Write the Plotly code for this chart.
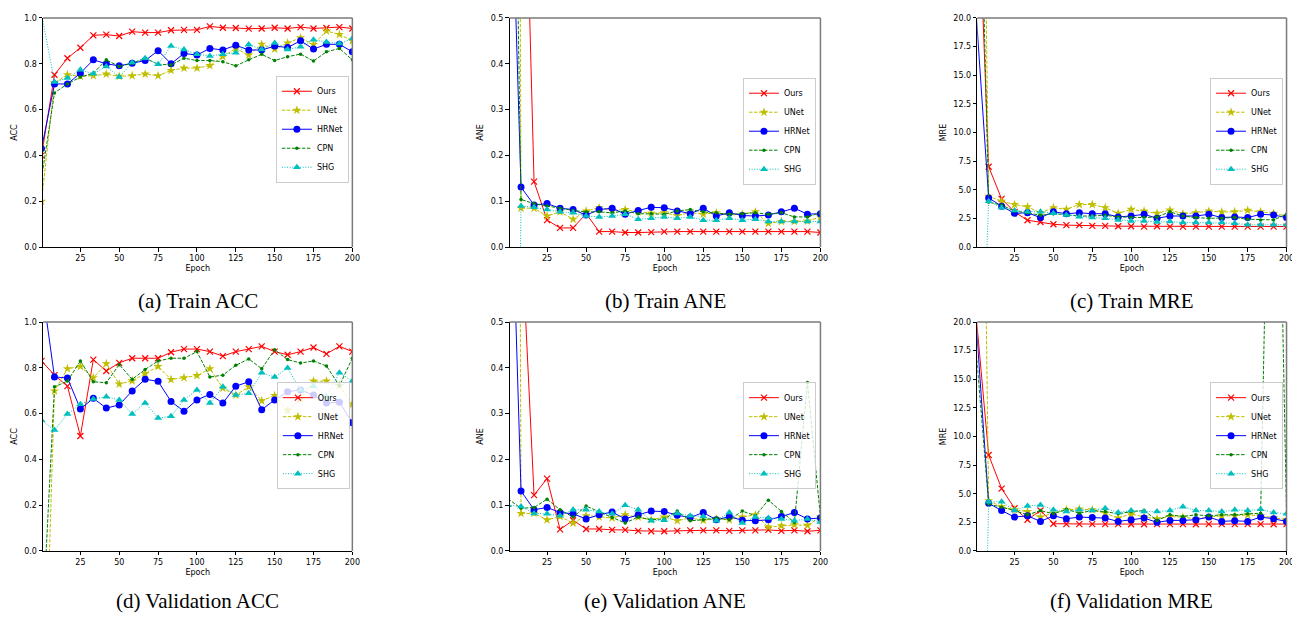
import plotly.graph_objects as go

# ---------------- data ----------------
epochs = [0, 8.33, 16.67, 25, 33.33, 41.67, 50, 58.33, 66.67, 75, 83.33, 91.67, 100,
          108.33, 116.67, 125, 133.33, 141.67, 150, 158.33, 166.67, 175, 183.33, 191.67, 200]
series_names = ["Ours", "UNet", "HRNet", "CPN", "SHG"]
captions = ["(a) Train ACC", "(b) Train ANE", "(c) Train MRE",
            "(d) Validation ACC", "(e) Validation ANE", "(f) Validation MRE"]
y_labels = ["ACC", "ANE", "MRE", "ACC", "ANE", "MRE"]

# (a) Train ACC
train_acc_ours = [0.40, 0.752, 0.824, 0.870, 0.924, 0.927, 0.921, 0.940, 0.936, 0.936, 0.946, 0.948, 0.948,
                  0.963, 0.957, 0.956, 0.953, 0.954, 0.957, 0.954, 0.960, 0.954, 0.956, 0.960, 0.954]
train_acc_unet = [0.20, 0.716, 0.752, 0.745, 0.748, 0.755, 0.745, 0.748, 0.755, 0.748, 0.771, 0.781, 0.781,
                  0.792, 0.831, 0.867, 0.838, 0.885, 0.864, 0.891, 0.913, 0.884, 0.943, 0.928, 0.900]
train_acc_hrnet = [0.43, 0.712, 0.712, 0.759, 0.817, 0.800, 0.791, 0.802, 0.814, 0.857, 0.800, 0.845, 0.838,
                   0.867, 0.860, 0.881, 0.860, 0.860, 0.877, 0.871, 0.900, 0.864, 0.885, 0.885, 0.852]
train_acc_cpn = [0.30, 0.673, 0.712, 0.742, 0.759, 0.817, 0.788, 0.802, 0.824, 0.798, 0.795, 0.824, 0.814,
                 0.814, 0.809, 0.791, 0.817, 0.841, 0.814, 0.831, 0.842, 0.812, 0.852, 0.867, 0.817]
train_acc_shg = [1.02, 0.720, 0.738, 0.774, 0.756, 0.788, 0.742, 0.805, 0.824, 0.798, 0.877, 0.862, 0.842,
                 0.834, 0.842, 0.848, 0.884, 0.862, 0.891, 0.862, 0.874, 0.905, 0.895, 0.888, 0.910]

# (b) Train ANE
train_ane_ours = [3.0, 1.22, 0.143, 0.059, 0.042, 0.042, 0.073, 0.034, 0.034, 0.032, 0.032, 0.033, 0.034,
                  0.034, 0.034, 0.034, 0.034, 0.034, 0.034, 0.034, 0.034, 0.034, 0.034, 0.034, 0.032]
train_ane_unet = [8.0, 0.085, 0.085, 0.068, 0.077, 0.061, 0.079, 0.086, 0.080, 0.082, 0.077, 0.074, 0.075,
                  0.069, 0.075, 0.072, 0.075, 0.070, 0.072, 0.077, 0.052, 0.056, 0.056, 0.057, 0.066]
train_ane_hrnet = [1.07, 0.131, 0.092, 0.095, 0.085, 0.082, 0.070, 0.082, 0.085, 0.072, 0.080, 0.087, 0.086,
                   0.079, 0.073, 0.085, 0.068, 0.075, 0.069, 0.068, 0.070, 0.077, 0.085, 0.072, 0.073]
train_ane_cpn = [1.9, 0.104, 0.095, 0.090, 0.085, 0.080, 0.077, 0.077, 0.075, 0.079, 0.073, 0.073, 0.072,
                 0.079, 0.082, 0.077, 0.075, 0.072, 0.073, 0.075, 0.072, 0.075, 0.066, 0.066, 0.075]
train_ane_shg = [-2.0, 0.090, 0.087, 0.082, 0.077, 0.075, 0.068, 0.066, 0.068, 0.072, 0.061, 0.063, 0.066,
                 0.063, 0.066, 0.059, 0.059, 0.063, 0.059, 0.061, 0.056, 0.056, 0.056, 0.056, 0.056]

# (c) Train MRE
train_mre_ours = [37.0, 7.02, 4.21, 3.07, 2.35, 2.20, 2.00, 1.92, 1.92, 1.86, 1.86, 1.83, 1.83,
                  1.80, 1.83, 1.80, 1.80, 1.80, 1.80, 1.80, 1.80, 1.80, 1.80, 1.80, 1.80]
train_mre_unet = [90.0, 4.44, 4.01, 3.72, 3.52, 3.00, 3.44, 3.30, 3.72, 3.72, 3.44, 2.95, 3.30,
                  3.15, 2.95, 3.24, 2.92, 3.00, 3.15, 3.07, 3.09, 3.21, 3.09, 2.95, 2.72]
train_mre_hrnet = [21.0, 4.30, 3.58, 2.95, 3.00, 2.58, 3.09, 2.92, 3.00, 2.92, 2.92, 2.64, 2.72,
                   2.87, 2.52, 2.72, 2.72, 2.72, 2.87, 2.58, 2.64, 2.58, 2.87, 2.81, 2.58]
train_mre_cpn = [50.0, 3.93, 3.67, 3.15, 3.00, 2.78, 2.92, 2.81, 2.72, 2.72, 2.78, 2.64, 2.58,
                 2.58, 2.64, 3.09, 2.72, 2.58, 2.52, 2.52, 2.58, 2.44, 2.38, 2.38, 2.87]
train_mre_shg = [-27.0, 4.01, 3.44, 3.21, 3.09, 3.09, 2.95, 2.81, 2.66, 2.58, 2.52, 2.38, 2.29,
                 2.29, 2.20, 2.23, 2.15, 2.15, 2.15, 2.15, 2.09, 1.95, 1.95, 1.95, 1.95]

# (d) Validation ACC
val_acc_ours = [0.83, 0.768, 0.720, 0.502, 0.836, 0.786, 0.822, 0.842, 0.842, 0.842, 0.868, 0.882, 0.882,
                0.871, 0.851, 0.871, 0.882, 0.894, 0.871, 0.857, 0.871, 0.889, 0.861, 0.894, 0.871]
val_acc_unet = [-1.12, 0.699, 0.796, 0.806, 0.757, 0.818, 0.729, 0.743, 0.775, 0.806, 0.749, 0.757, 0.766,
                0.796, 0.711, 0.681, 0.717, 0.656, 0.679, 0.613, 0.664, 0.742, 0.742, 0.722, 0.641]
val_acc_hrnet = [1.17, 0.760, 0.756, 0.620, 0.667, 0.624, 0.638, 0.699, 0.750, 0.741, 0.653, 0.610, 0.660,
                 0.684, 0.646, 0.720, 0.739, 0.617, 0.660, 0.696, 0.703, 0.681, 0.646, 0.650, 0.560]
val_acc_cpn = [-0.40, 0.717, 0.742, 0.830, 0.739, 0.735, 0.814, 0.750, 0.793, 0.830, 0.842, 0.842, 0.871,
               0.760, 0.768, 0.811, 0.839, 0.796, 0.879, 0.836, 0.821, 0.830, 0.808, 0.722, 0.842]
val_acc_shg = [0.571, 0.528, 0.598, 0.641, 0.664, 0.674, 0.660, 0.598, 0.646, 0.581, 0.588, 0.660, 0.703,
               0.646, 0.717, 0.681, 0.689, 0.778, 0.760, 0.799, 0.703, 0.720, 0.674, 0.779, 0.742]

# (e) Validation ANE
val_ane_ours = [2.0, 0.717, 0.122, 0.158, 0.047, 0.067, 0.048, 0.048, 0.046, 0.046, 0.044, 0.043, 0.043,
                0.044, 0.045, 0.045, 0.045, 0.044, 0.045, 0.045, 0.046, 0.044, 0.045, 0.043, 0.045]
val_ane_unet = [8.0, 0.082, 0.082, 0.068, 0.075, 0.061, 0.077, 0.074, 0.072, 0.079, 0.074, 0.068, 0.074,
                0.066, 0.072, 0.067, 0.070, 0.068, 0.074, 0.079, 0.052, 0.055, 0.057, 0.056, 0.074]
val_ane_hrnet = [1.07, 0.131, 0.090, 0.095, 0.084, 0.081, 0.070, 0.079, 0.085, 0.070, 0.079, 0.087, 0.086,
                 0.078, 0.073, 0.084, 0.068, 0.075, 0.067, 0.066, 0.068, 0.075, 0.084, 0.070, 0.072]
val_ane_cpn = [0.114, 0.093, 0.095, 0.113, 0.090, 0.074, 0.098, 0.086, 0.073, 0.061, 0.074, 0.068, 0.070,
               0.087, 0.066, 0.068, 0.072, 0.068, 0.087, 0.077, 0.111, 0.086, 0.062, 0.368, 0.074]
val_ane_shg = [0.100, 0.097, 0.082, 0.081, 0.077, 0.090, 0.090, 0.086, 0.081, 0.100, 0.090, 0.066, 0.067,
               0.082, 0.077, 0.075, 0.066, 0.084, 0.061, 0.074, 0.072, 0.070, 0.066, 0.070, 0.063]

# (f) Validation MRE
val_mre_ours = [21.0, 8.38, 5.45, 3.73, 2.73, 3.53, 2.38, 2.35, 2.35, 2.35, 2.35, 2.35, 2.33,
                2.33, 2.35, 2.35, 2.35, 2.33, 2.35, 2.35, 2.35, 2.35, 2.35, 2.33, 2.35]
val_mre_unet = [90.0, 4.39, 3.87, 3.59, 3.44, 2.96, 3.30, 3.59, 3.67, 3.59, 3.30, 2.87, 3.24,
                2.96, 2.81, 3.01, 2.96, 2.78, 2.96, 3.07, 3.07, 3.16, 3.07, 2.87, 2.73]
val_mre_hrnet = [20.5, 4.16, 3.53, 2.96, 3.07, 2.58, 3.07, 2.81, 2.96, 2.93, 2.87, 2.58, 2.73,
                 2.87, 2.50, 2.67, 2.67, 2.73, 2.96, 2.58, 2.64, 2.58, 2.96, 2.81, 2.58]
val_mre_cpn = [18.0, 4.10, 3.82, 3.53, 3.16, 3.53, 3.24, 3.64, 3.30, 3.53, 3.44, 3.24, 3.44,
               3.53, 2.67, 3.16, 3.01, 3.16, 3.07, 3.16, 3.16, 3.24, 3.30, 60.0, 3.30]
val_mre_shg = [-50.0, 4.30, 4.30, 3.53, 3.93, 4.02, 3.59, 3.44, 3.59, 3.53, 3.73, 3.36, 3.53,
               3.44, 3.44, 3.53, 3.87, 3.53, 3.53, 3.44, 3.59, 3.53, 3.64, 3.36, 3.24]

panel_data = [
    [train_acc_ours, train_acc_unet, train_acc_hrnet, train_acc_cpn, train_acc_shg],
    [train_ane_ours, train_ane_unet, train_ane_hrnet, train_ane_cpn, train_ane_shg],
    [train_mre_ours, train_mre_unet, train_mre_hrnet, train_mre_cpn, train_mre_shg],
    [val_acc_ours, val_acc_unet, val_acc_hrnet, val_acc_cpn, val_acc_shg],
    [val_ane_ours, val_ane_unet, val_ane_hrnet, val_ane_cpn, val_ane_shg],
    [val_mre_ours, val_mre_unet, val_mre_hrnet, val_mre_cpn, val_mre_shg],
]
y_ranges = [[0, 1.0], [0, 0.5], [0, 20.0], [0, 1.0], [0, 0.5], [0, 20.0]]
y_dticks = [0.2, 0.1, 2.5, 0.2, 0.1, 2.5]
x_ticks = [25, 50, 75, 100, 125, 150, 175, 200]

# ---------------- styles / layout ----------------
# page body has an 8px margin, so the figure is drawn 8px in from the window edge
OFF = 8
W, H = 1300 - OFF, 619 - OFF


def px_x(v):
    return (v - OFF) / W


def px_y(v):
    return 1 - (v - OFF) / H


styles = {
    "Ours":  dict(color="#FF0000", dash="solid", symbol="x-thin", size=6, lw=1.0),
    "UNet":  dict(color="#BFBF00", dash="3.5px,1.5px", symbol="star", size=7, lw=1.0),
    "HRNet": dict(color="#0000FF", dash="solid", symbol="circle", size=7, lw=1.0),
    "CPN":   dict(color="#008000", dash="3.5px,1.5px", symbol="circle", size=3.5, lw=1.0),
    "SHG":   dict(color="#00BFBF", dash="1px,1.6px", symbol="triangle-up", size=7, lw=1.0),
}

col_px = [(43.3, 354.5), (512.7, 825.5), (983.3, 1294.5)]
row_px = [(14.0, 246.7), (322.7, 555.0)]
legend_px = [(351, 127), (821, 129), (1291, 129), (352, 438), (821, 438), (1291, 438)]
caption_y = [301, 301, 301, 606, 606, 606]

fig = go.Figure()
font_sans = "DejaVu Sans"

for p in range(6):
    r, c = divmod(p, 3)
    k = p + 1
    xa = "x" if k == 1 else f"x{k}"
    ya = "y" if k == 1 else f"y{k}"
    leg = "legend" if k == 1 else f"legend{k}"
    for name, vals in zip(series_names, panel_data[p]):
        st = styles[name]
        marker = dict(symbol=st["symbol"], size=st["size"], color=st["color"])
        if st["symbol"] == "x-thin":
            marker["line"] = dict(color=st["color"], width=1.2)
        else:
            marker["line"] = dict(width=0)
        fig.add_trace(go.Scatter(
            x=epochs, y=vals, name=name, mode="lines+markers",
            line=dict(color=st["color"], width=st["lw"], dash=st["dash"]),
            marker=marker, xaxis=xa, yaxis=ya, legend=leg, showlegend=True,
        ))
    x0, x1 = col_px[c]
    y0, y1 = row_px[r]
    axis_common = dict(showgrid=False, zeroline=False, showline=True, linecolor="black",
                       linewidth=1, ticks="outside", ticklen=3.5, tickwidth=0.8,
                       tickcolor="black", tickfont=dict(family=font_sans, size=8, color="black"),
                       mirror=False)
    fig.layout[f"xaxis{'' if k == 1 else k}"] = dict(
        domain=[px_x(x0), px_x(x1)], anchor=ya, range=[1, 200], tickvals=x_ticks,
        title=dict(text="Epoch", font=dict(family=font_sans, size=8, color="black"), standoff=3),
        **axis_common)
    fig.layout[f"yaxis{'' if k == 1 else k}"] = dict(
        domain=[px_y(y1), px_y(y0)], anchor=xa, range=y_ranges[p], dtick=y_dticks[p],
        tick0=0, tickformat=".1f",
        title=dict(text=y_labels[p], font=dict(family=font_sans, size=8, color="black"), standoff=5),
        **axis_common)
    # top and right frame lines
    fig.add_shape(type="line", xref=f"{xa} domain", yref=f"{ya} domain", x0=0, x1=1, y0=1, y1=1,
                  line=dict(color="#7a7a7a", width=1.5))
    fig.add_shape(type="line", xref=f"{xa} domain", yref=f"{ya} domain", x0=1, x1=1, y0=0, y1=1,
                  line=dict(color="#7a7a7a", width=1.5))
    lx, ly = legend_px[p]
    fig.layout[leg] = dict(
        x=px_x(lx), y=px_y(ly), xanchor="right", yanchor="middle", xref="paper", yref="paper",
        bgcolor="rgba(255,255,255,0.8)", bordercolor="#cccccc", borderwidth=1,
        font=dict(family=font_sans, size=8, color="black"), itemwidth=30, tracegroupgap=0,
    )
    fig.add_annotation(text=captions[p], xref="paper", yref="paper",
                       x=px_x((x0 + x1) / 2), y=px_y(caption_y[p]), xanchor="center", yanchor="middle",
                       showarrow=False, font=dict(family="Liberation Serif", size=21, color="black"))

fig.update_layout(width=W, height=H, margin=dict(l=0, r=0, t=0, b=0),
                  paper_bgcolor="white", plot_bgcolor="white")
fig.write_html("out.html")
